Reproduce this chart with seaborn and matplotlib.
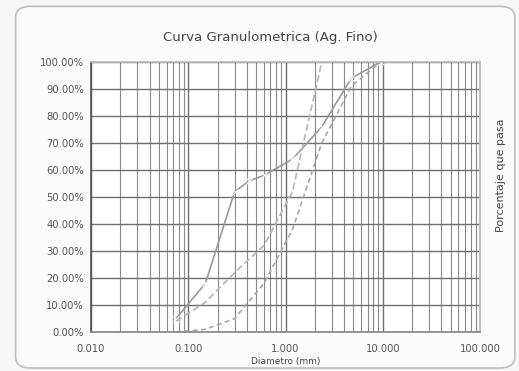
import matplotlib
matplotlib.use("Agg")
import matplotlib.pyplot as plt
import matplotlib.ticker as mticker
from matplotlib.patches import FancyBboxPatch
import seaborn as sns
import pandas as pd
import numpy as np

# Data
sieves_1 = [0.075, 0.15, 0.3, 0.425, 0.6, 1.18, 2.36, 4.75, 9.5]
pass_1 = [5, 18, 52, 56, 58, 64, 76, 94, 100]

sieves_2 = [0.075, 0.15, 0.3, 0.6, 1.18, 2.36]
pass_2 = [4, 11, 22, 32, 52, 100]

sieves_3 = [0.075, 0.15, 0.3, 0.6, 1.18, 2.36, 4.75, 9.5]
pass_3 = [0, 1, 5, 18, 38, 70, 91, 100]

series_names = ["Muestra", "Lim. Superior", "Lim. Inferior"]
y_ticks = [0, 10, 20, 30, 40, 50, 60, 70, 80, 90, 100]
x_ticks = [0.01, 0.1, 1, 10, 100]

frames = []
for name, d, p in zip(series_names, [sieves_1, sieves_2, sieves_3], [pass_1, pass_2, pass_3]):
    frames.append(pd.DataFrame({"d": d, "p": p, "serie": name}))
df = pd.concat(frames, ignore_index=True)

sns.set_theme(style="white")
plt.rcParams['font.family'] = ['DejaVu Sans']

fig = plt.figure(figsize=(5.19, 3.71), dpi=100)
fig.patch.set_facecolor("#f7f7f7")
# rounded outer frame (behind the axes)
frame = FancyBboxPatch((0.03, 0.008), 0.962, 0.975, boxstyle="round,pad=0,rounding_size=0.03",
                       transform=fig.transFigure, facecolor="#fbfbfb", edgecolor="#bdbdbd", lw=1.2,
                       zorder=-10)
fig.patches.append(frame)

ax = fig.add_axes([91/519, 1 - 332/371, (480-91)/519, (332-62)/371])
ax.set_facecolor("white")

colors = {"Muestra": "#9a9a9a", "Lim. Superior": "#b5b5b5", "Lim. Inferior": "#a8a8a8"}
styles = {"Muestra": "", "Lim. Superior": (4, 2), "Lim. Inferior": (3, 2)}
sns.lineplot(data=df, x="d", y="p", hue="serie", style="serie", palette=colors,
             dashes=styles, markers={"Muestra": "x", "Lim. Superior": "", "Lim. Inferior": ""},
             markersize=4, linewidth=1.2, sort=False, legend=False, ax=ax)

ax.set_xscale("log")
ax.set_xlim(0.01, 100)
ax.set_ylim(0, 100)
ax.set_yticks(y_ticks)
ax.yaxis.set_major_formatter(mticker.FuncFormatter(lambda v, _: f"{v:.2f}%"))
ax.set_xticks(x_ticks)
ax.xaxis.set_major_formatter(mticker.FuncFormatter(lambda v, _: f"{v:.3f}"))
ax.xaxis.set_minor_locator(mticker.LogLocator(base=10, subs=np.arange(2, 10)))
ax.xaxis.set_minor_formatter(mticker.NullFormatter())

ax.grid(True, which="major", axis="both", color="#6f6f6f", lw=1.0)
ax.grid(True, which="minor", axis="x", color="#8a8a8a", lw=0.8)
ax.set_axisbelow(True)
for s in ax.spines.values():
    s.set_color("#bbbbbb")
ax.spines["left"].set_color("#555555")
ax.spines["bottom"].set_color("#888888")

ax.tick_params(axis="both", which="both", length=0, labelsize=7.2, colors="#555555")
ax.tick_params(axis="x", pad=9)
ax.tick_params(axis="y", pad=5)

ax.set_xlabel("Diametro (mm)", fontsize=6.5, color="#444444", labelpad=1.5)
ax.set_ylabel("")
fig.text(501/519, 1 - 175/371, "Porcentaje que pasa", rotation=90, ha="center", va="center",
         fontsize=8, color="#444444")
fig.text(270/519, 1 - 37/371, "Curva Granulometrica (Ag. Fino)", ha="center", va="center",
         fontsize=9.5, color="#444444")

fig.savefig("out.png", dpi=100, facecolor=fig.get_facecolor())
